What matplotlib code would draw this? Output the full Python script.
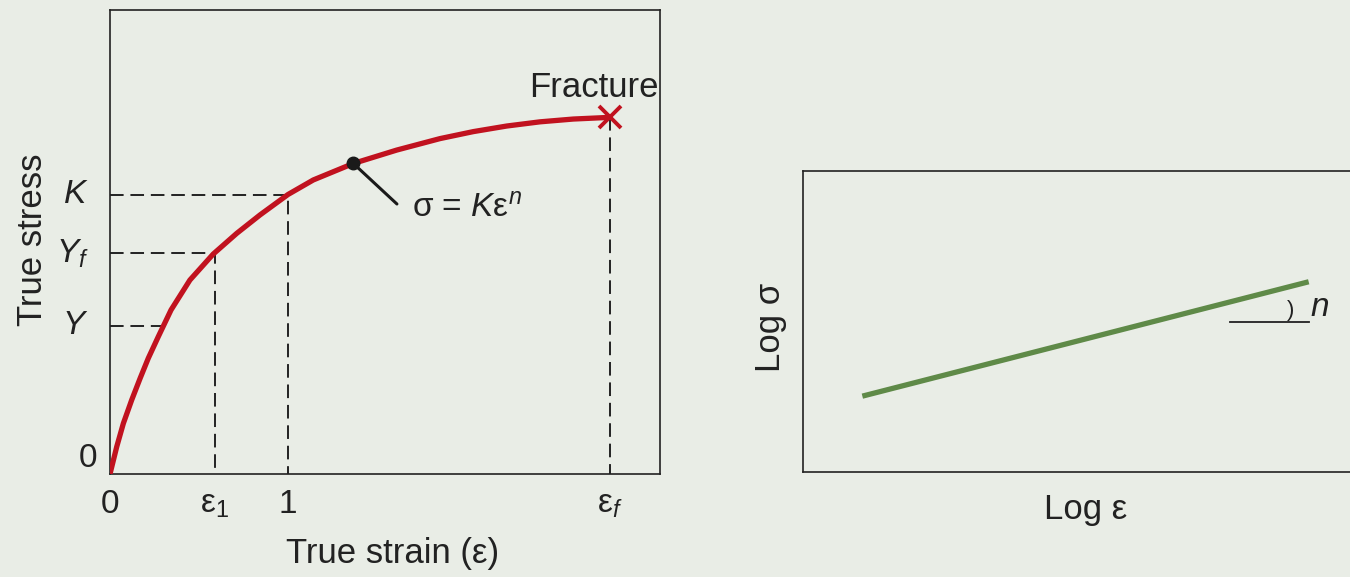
import numpy as np
import matplotlib
matplotlib.use("Agg")
import matplotlib.pyplot as plt

plt.rcParams['font.family'] = ['Liberation Sans', 'DejaVu Sans']
plt.rcParams['mathtext.fontset'] = 'custom'
plt.rcParams['mathtext.rm'] = 'Liberation Sans'
plt.rcParams['mathtext.it'] = 'Liberation Sans:italic'
plt.rcParams['mathtext.bf'] = 'Liberation Sans:bold'

# true stress-strain curve (K = 1, strain 1 = 1)
strain = [0, 0.038, 0.075, 0.122, 0.169, 0.215, 0.271, 0.343, 0.449, 0.580,
          0.712, 0.843, 1.0, 1.142, 1.367, 1.611, 1.854, 2.041, 2.229,
          2.416, 2.603, 2.809]
stress = [0, 0.098, 0.181, 0.265, 0.342, 0.414, 0.491, 0.587, 0.694, 0.787,
          0.861, 0.927, 1.0, 1.052, 1.111, 1.159, 1.200, 1.225, 1.245,
          1.260, 1.270, 1.276]

Y = 0.531
Y_strain = 0.289
Yf = 0.789
eps1 = 0.590
K = 1.0
eps_f = 2.809
frac_stress = 1.276
dot_strain, dot_stress = 1.367, 1.111

xtick_pos = [0, eps1, 1, eps_f]
xtick_lab = ['0', r'$\mathrm{ε}_1$', '1', r'$\mathrm{ε}_f$']
ytick_pos = [0, Y, Yf, K]
ytick_lab = ['0', r'$Y$', r'$Y_f$', r'$K$']

# log-log plot
log_eps = [0.106, 0.903]
log_sig = [0.252, 0.632]

red = '#c1121f'
green = '#5f8a48'
dark = '#222222'
bg = '#e9ede6'

W, H = 1350, 577
fig = plt.figure(figsize=(W/100, H/100), dpi=100, facecolor=bg)

# ---- left panel
ax = fig.add_axes([110/W, (H-474)/H, 550/W, 464/H])
ax.set_facecolor('none')
ax.set_xlim(0, 550/178)
ax.set_ylim(0, 464/279.5)
for s in ax.spines.values():
    s.set_color(dark)
    s.set_linewidth(1.2)

dash = dict(color=dark, lw=1.4, dashes=(7, 3.5), zorder=2)
ax.plot([0, 1, 1], [K, K, 0], **dash)
ax.plot([0, eps1, eps1], [Yf, Yf, 0], **dash)
ax.plot([0, Y_strain], [Y, Y], **dash)
ax.plot([eps_f, eps_f], [frac_stress, 0], **dash)

ax.plot(strain, stress, color=red, lw=3.8, solid_capstyle='butt',
        solid_joinstyle='round', zorder=3)
ax.plot([eps_f], [frac_stress], marker='x', color=red, ms=16, mew=2.8, zorder=4)
ax.plot([dot_strain], [dot_stress], 'o', color='#1a1a1a', ms=9, zorder=5)
ax.annotate('', xy=(dot_strain, dot_stress), xytext=(1.612, 0.966),
            arrowprops=dict(arrowstyle='-', color='#1a1a1a', lw=2.2,
                            shrinkA=0, shrinkB=0), zorder=4)
ax.text(1.697, 0.948, r'σ = $K\mathrm{ε}^{n}$', fontsize=24, color=dark,
        va='center', ha='left')
ax.text(eps_f - 0.09, 1.349, 'Fracture', fontsize=25, color=dark,
        ha='center', va='baseline')

ax.set_xticks(xtick_pos)
ax.set_xticklabels(xtick_lab, fontsize=24, color=dark)
ax.tick_params(axis='x', length=0, pad=11)
ax.set_yticks([])
for p, lab in zip(ytick_pos, ytick_lab):
    ax.text(-0.12 if p > 0 else -0.07, p, lab, fontsize=24, color=dark,
            ha='right', va='bottom' if p == 0 else 'center')

fig.text(393/W, 1 - 553/H, 'True strain (ε)', fontsize=25, color=dark,
         ha='center', va='center')
fig.text(33/W, 1 - 240/H, 'True stress', fontsize=25, color=dark,
         ha='center', va='center', rotation=90)

# ---- right panel
ax2 = fig.add_axes([803/W, (H-472)/H, 560/W, 301/H])
ax2.set_facecolor('none')
ax2.set_xlim(0, 1)
ax2.set_ylim(0, 1)
for s in ax2.spines.values():
    s.set_color(dark)
    s.set_linewidth(1.2)
ax2.set_xticks([])
ax2.set_yticks([])
ax2.plot(log_eps, log_sig, color=green, lw=3.8, solid_capstyle='butt')
ax2.plot([0.762, log_eps[1]], [0.498, 0.498], color=dark, lw=1.3)
ax2.text(0.870, 0.535, ')', fontsize=16, color=dark, ha='center', va='center')
ax2.text(0.923, 0.545, r'$n$', fontsize=24, color=dark, ha='center', va='center')

fig.text(1086/W, 1 - 509/H, 'Log ε', fontsize=25, color=dark,
         ha='center', va='center')
fig.text(770/W, 1 - 327/H, 'Log σ', fontsize=25, color=dark,
         ha='center', va='center', rotation=90)

fig.savefig('out.png', dpi=100, facecolor=bg)
